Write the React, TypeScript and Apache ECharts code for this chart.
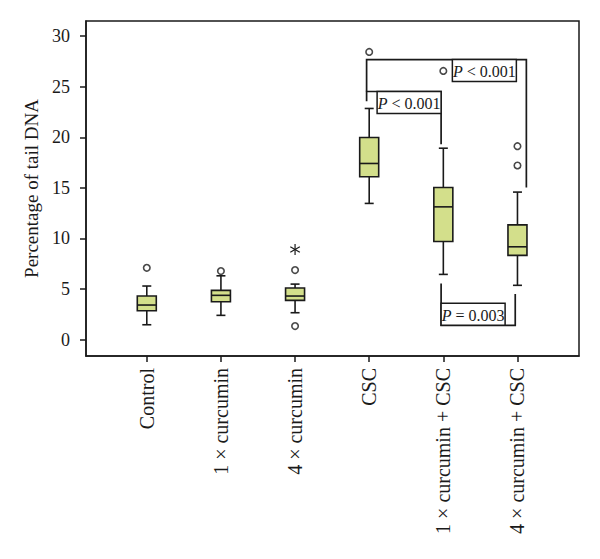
import React, { useEffect, useRef } from "react";
import * as echarts from "echarts";

const categories = [
  "Control",
  "1 × curcumin",
  "4 × curcumin",
  "CSC",
  "1 × curcumin + CSC",
  "4 × curcumin + CSC",
];
const categoryIndex = [0, 1, 2, 3, 4, 5];
const whiskerLow = [1.46, 2.39, 2.65, 13.46, 6.44, 5.36];
const q1 = [2.85, 3.74, 3.87, 16.09, 9.7, 8.32];
const median = [3.41, 4.37, 4.3, 17.41, 13.12, 9.17];
const q3 = [4.3, 4.86, 5.09, 19.98, 15.04, 11.34];
const whiskerHigh = [5.29, 6.3, 5.48, 22.85, 18.92, 14.58];
const outliers: [number, number][] = [
  [0, 7.09],
  [1, 6.77],
  [2, 6.87],
  [2, 1.33],
  [3, 28.44],
  [4, 26.56],
  [5, 19.12],
  [5, 17.21],
];
const extremes: [number, number][] = [[2, 8.91]];
const yTicks = [0, 5, 10, 15, 20, 25, 30];

// comparisons (brackets)
const compFrom = [2.965, 2.965, 3.97];
const compTo = [3.97, 5.12, 4.97];
const compLevel = [24.53, 27.69, 1.4];
const compFromEnd = [23.57, 24.53, 5.55];
const compToEnd = [19.32, 15.04, 4.5];
const compOp = ["<", "<", "="];
const compP = ["0.001", "0.001", "0.003"];

// label placement (style only)
const LABEL_LAYOUT = [
  { align: "right", inset: 0, side: "below" },
  { align: "right", inset: 10, side: "below" },
  { align: "left", inset: 0, side: "above" },
];

const INK = "#1a1a1a";
const FONT = "'Liberation Serif', 'Times New Roman', serif";
const BOX_FILL = "#d3df8b";

export default function App() {
  const ref = useRef<HTMLDivElement>(null);
  useEffect(() => {
    if (!ref.current) return;
    const chart = echarts.init(ref.current, null, { renderer: "svg" });

    const boxData = categoryIndex.map((i) => [
      i,
      whiskerLow[i],
      q1[i],
      median[i],
      q3[i],
      whiskerHigh[i],
    ]);
    const bracketData = compFrom.map((f, i) => [
      f,
      compTo[i],
      compLevel[i],
      compFromEnd[i],
      compToEnd[i],
    ]);

    const option: any = {
      animation: false,
      grid: {
        left: 86,
        top: 21,
        width: 493,
        height: 335,
        show: true,
        borderColor: INK,
        borderWidth: 1.5,
      },
      xAxis: {
        type: "value",
        min: -0.82,
        max: 5.83,
        splitLine: { show: false },
        axisLine: { show: true, onZero: false, lineStyle: { color: INK, width: 1.5 } },
        axisTick: {
          show: true,
          customValues: categoryIndex,
          length: 6,
          lineStyle: { color: INK, width: 1.5 },
        },
        axisLabel: {
          customValues: categoryIndex,
          formatter: (v: number) => categories[Math.round(v)] ?? "",
          rotate: 90,
          margin: 12,
          fontSize: 20,
          fontFamily: FONT,
          color: INK,
        },
      },
      yAxis: {
        type: "value",
        min: -1.63,
        max: 31.5,
        name: "Percentage of tail DNA",
        nameLocation: "middle",
        nameGap: 38,
        nameTextStyle: { fontSize: 19, fontFamily: FONT, color: INK },
        splitLine: { show: false },
        axisLine: { show: true, onZero: false, lineStyle: { color: INK, width: 1.5 } },
        axisTick: {
          show: true,
          customValues: yTicks,
          length: 6,
          lineStyle: { color: INK, width: 1.5 },
        },
        axisLabel: {
          customValues: yTicks,
          margin: 16,
          fontSize: 18,
          fontFamily: FONT,
          color: INK,
        },
      },
      series: [
        {
          type: "custom",
          name: "box",
          clip: false,
          encode: { x: 0, y: [1, 2, 3, 4, 5] },
          data: boxData,
          renderItem: (params: any, api: any) => {
            const x = api.value(0);
            const cx = api.coord([x, 0])[0];
            const yWl = api.coord([x, api.value(1)])[1];
            const yQ1 = api.coord([x, api.value(2)])[1];
            const yMed = api.coord([x, api.value(3)])[1];
            const yQ3 = api.coord([x, api.value(4)])[1];
            const yWh = api.coord([x, api.value(5)])[1];
            const bw = 19;
            const cw = 9;
            const ls = { stroke: INK, lineWidth: 1.6 };
            return {
              type: "group",
              children: [
                { type: "line", shape: { x1: cx, y1: yWl, x2: cx, y2: yQ1 }, style: ls },
                { type: "line", shape: { x1: cx, y1: yQ3, x2: cx, y2: yWh }, style: ls },
                { type: "line", shape: { x1: cx - cw / 2, y1: yWl, x2: cx + cw / 2, y2: yWl }, style: ls },
                { type: "line", shape: { x1: cx - cw / 2, y1: yWh, x2: cx + cw / 2, y2: yWh }, style: ls },
                {
                  type: "rect",
                  shape: { x: cx - bw / 2, y: yQ3, width: bw, height: yQ1 - yQ3 },
                  style: { fill: BOX_FILL, stroke: INK, lineWidth: 1.6 },
                },
                {
                  type: "line",
                  shape: { x1: cx - bw / 2, y1: yMed, x2: cx + bw / 2, y2: yMed },
                  style: ls,
                },
              ],
            };
          },
        },
        {
          type: "scatter",
          name: "outliers",
          data: outliers,
          symbol: "circle",
          symbolSize: 6.5,
          itemStyle: { color: "#fff", borderColor: INK, borderWidth: 1.6 },
        },
        {
          type: "custom",
          name: "extremes",
          clip: false,
          data: extremes,
          encode: { x: 0, y: 1 },
          renderItem: (params: any, api: any) => {
            const p = api.coord([api.value(0), api.value(1)]);
            const r = 5.5;
            const ls = { stroke: INK, lineWidth: 1.2 };
            const c = Math.cos(Math.PI / 6) * r;
            const s = Math.sin(Math.PI / 6) * r;
            return {
              type: "group",
              children: [
                { type: "line", shape: { x1: p[0], y1: p[1] - r, x2: p[0], y2: p[1] + r }, style: ls },
                { type: "line", shape: { x1: p[0] - c, y1: p[1] - s, x2: p[0] + c, y2: p[1] + s }, style: ls },
                { type: "line", shape: { x1: p[0] - c, y1: p[1] + s, x2: p[0] + c, y2: p[1] - s }, style: ls },
              ],
            };
          },
        },
        {
          type: "custom",
          name: "brackets",
          clip: false,
          z: 5,
          data: bracketData,
          encode: { x: [0, 1], y: [2, 3, 4] },
          renderItem: (params: any, api: any) => {
            const i = params.dataIndex;
            const xf = api.value(0);
            const xt = api.value(1);
            const lv = api.value(2);
            const pA = api.coord([xf, lv]);
            const pB = api.coord([xt, lv]);
            const pAe = api.coord([xf, api.value(3)]);
            const pBe = api.coord([xt, api.value(4)]);
            const lay = LABEL_LAYOUT[i];
            const w = 64;
            const h = 22;
            const rx = lay.align === "right" ? pB[0] - lay.inset - w : pA[0] + lay.inset;
            const ry = lay.side === "below" ? pA[1] : pA[1] - h;
            return {
              type: "group",
              children: [
                {
                  type: "polyline",
                  shape: { points: [pAe, pA, pB, pBe] },
                  style: { stroke: INK, lineWidth: 1.7, fill: "none" },
                },
                {
                  type: "rect",
                  shape: { x: rx, y: ry, width: w, height: h },
                  style: { fill: "#fff", stroke: INK, lineWidth: 1.5 },
                },
                {
                  type: "text",
                  x: rx + w / 2,
                  y: ry + h / 2 + 1,
                  style: {
                    text: `{i|P} ${compOp[i]} ${compP[i]}`,
                    align: "center",
                    verticalAlign: "middle",
                    fill: INK,
                    fontSize: 16,
                    fontFamily: FONT,
                    rich: {
                      i: { fontStyle: "italic", fontSize: 16, fontFamily: FONT, fill: INK },
                    },
                  },
                },
              ],
            };
          },
        },
      ],
    };
    chart.setOption(option);
    return () => chart.dispose();
  }, []);
  return (
    <div
      ref={ref}
      style={{ position: "absolute", left: 0, top: 0, width: 600, height: 559, background: "#fff" }}
    />
  );
}
